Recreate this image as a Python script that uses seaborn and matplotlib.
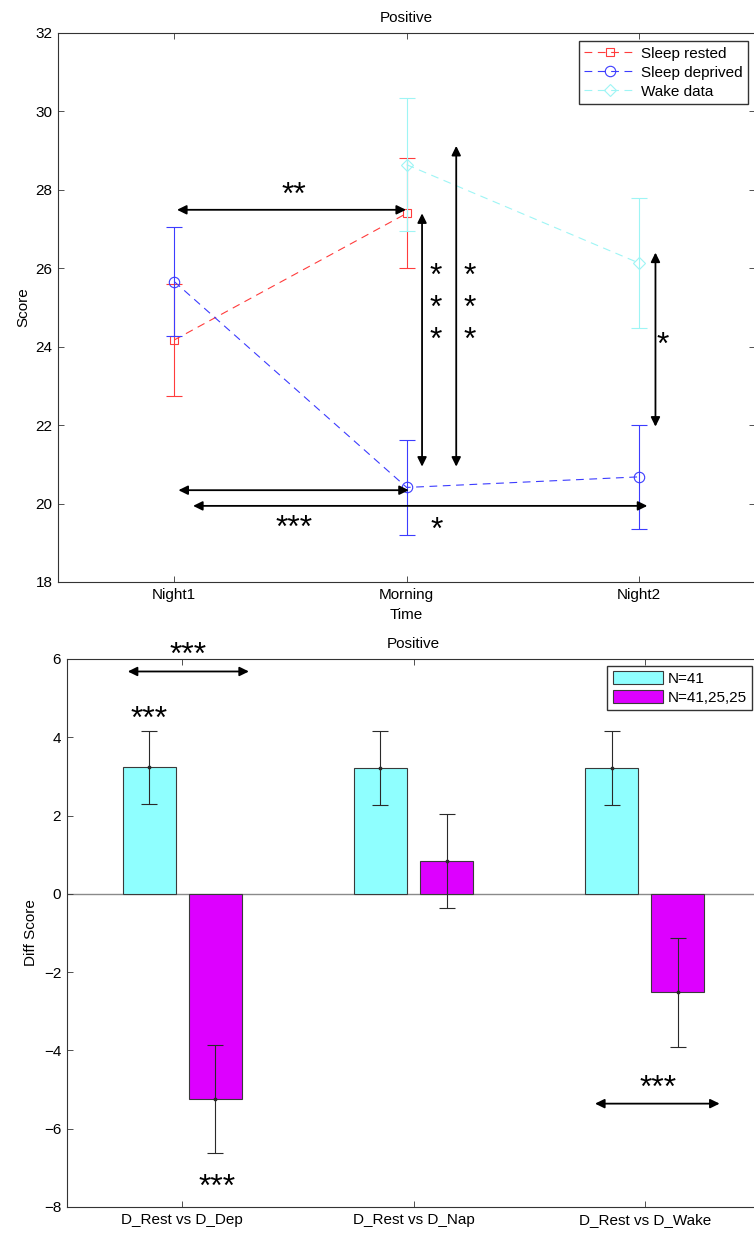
import numpy as np
import pandas as pd
import matplotlib
matplotlib.use("Agg")
import matplotlib.pyplot as plt
import matplotlib.transforms as mtransforms
import seaborn as sns

# ---- data: mean scores over time (with error bar half-widths) ----
times = ["Night1", "Morning", "Night2"]
rested_mean = [24.17, 27.40, np.nan]
rested_err = [1.43, 1.40, np.nan]
deprived_mean = [25.66, 20.41, 20.68]
deprived_err = [1.40, 1.21, 1.33]
wake_mean = [np.nan, 28.64, 26.13]
wake_err = [np.nan, 1.70, 1.65]
series_names = ["Sleep rested", "Sleep deprived", "Wake data"]

# ---- data: difference scores per comparison ----
comparisons = ["D_Rest vs D_Dep", "D_Rest vs D_Nap", "D_Rest vs D_Wake"]
rest_diff = [3.23, 3.22, 3.22]
rest_diff_err = [0.94, 0.94, 0.94]
other_diff = [-5.24, 0.84, -2.52]
other_diff_err = [1.38, 1.21, 1.40]
group_labels = ["N=41", "N=41,25,25"]

sns.set_style("ticks")
plt.rcParams["font.family"] = ["Liberation Sans", "DejaVu Sans"]
plt.rcParams.update({
    "font.size": 11,
    "text.color": "black",
    "axes.labelcolor": "black",
    "xtick.color": "#333333",
    "ytick.color": "#333333",
    "xtick.labelcolor": "black",
    "ytick.labelcolor": "black",
    "axes.edgecolor": "#333333",
    "axes.linewidth": 0.8,
    "xtick.direction": "in",
    "ytick.direction": "in",
    "xtick.top": True,
    "ytick.right": True,
    "xtick.major.size": 4,
    "ytick.major.size": 4,
    "xtick.major.width": 0.6,
    "ytick.major.width": 0.6,
    "xtick.major.pad": 4,
    "ytick.major.pad": 4,
    "xtick.labelsize": 11,
    "ytick.labelsize": 11,
    "axes.titlesize": 11,
    "axes.labelsize": 11,
})

fig = plt.figure(figsize=(7.54, 12.34), dpi=100)
ax1 = fig.add_axes([0.0769, 0.5284, 0.925, 0.4449])
ax2 = fig.add_axes([0.0885, 0.0219, 0.9199, 0.4441])

STAR_FONT = dict(fontsize=23, ha="center", va="center", color="black")


def stars(ax, x, y, s, **kw):
    # the asterisk glyph sits high in its text box; nudge it down a little
    tr = mtransforms.offset_copy(ax.transData, fig=fig, y=-6, units="dots")
    ax.text(x, y, s, transform=tr, **STAR_FONT, **kw)


def double_arrow(ax, p0, p1):
    ax.annotate("", xy=p1, xytext=p0, annotation_clip=False,
                arrowprops=dict(arrowstyle="<|-|>,head_length=0.55,head_width=0.27",
                                color="black", lw=1.3, mutation_scale=10,
                                shrinkA=0, shrinkB=0))


# ================= top panel: scores over time =================
x_pos = np.arange(1, len(times) + 1)
styles = [
    (rested_mean, rested_err, "#ff3c3c", "s", 6),
    (deprived_mean, deprived_err, "#3c3cff", "o", 7.5),
    (wake_mean, wake_err, "#9ef5f5", "D", 6),
]
handles = []
for name, (m, e, c, mk, ms) in zip(series_names, styles):
    df = pd.DataFrame({"time": x_pos, "score": m}).dropna()
    sns.lineplot(data=df, x="time", y="score", ax=ax1, color=c, marker=mk,
                 markersize=ms, markerfacecolor="none", markeredgecolor=c,
                 markeredgewidth=0.8, linestyle=(0, (7, 5)), linewidth=0.8,
                 label=name)
    handles.append(ax1.get_lines()[-1])
    ax1.errorbar(x_pos, m, yerr=e, fmt="none", ecolor=c, elinewidth=0.8,
                 capsize=6, capthick=0.8)

ax1.set_xlim(0.5, 3.5)
ax1.set_ylim(18, 32)
ax1.set_xticks(x_pos, times)
ax1.set_yticks(np.arange(18, 33, 2))
ax1.set_xlabel("Time", labelpad=5)
ax1.set_ylabel("Score", labelpad=4)
ax1.set_title("Positive", pad=8)
ax1.legend(handles, series_names, loc="upper right", bbox_to_anchor=(0.989, 0.985),
           frameon=True, fancybox=False, edgecolor="#333333", framealpha=1,
           handlelength=3.4, labelspacing=0.33, borderaxespad=0, fontsize=11,
           borderpad=0.35, handletextpad=0.3)

# significance markers, top panel
double_arrow(ax1, (1.012, 27.49), (1.997, 27.49))
stars(ax1, 1.513, 28.01, "**")
double_arrow(ax1, (2.066, 20.94), (2.066, 27.40))
stars(ax1, 2.125, 25.12, "*\n*\n*", linespacing=1.1)
double_arrow(ax1, (2.213, 20.94), (2.213, 29.12))
stars(ax1, 2.27, 25.12, "*\n*\n*", linespacing=1.1)
double_arrow(ax1, (3.07, 21.96), (3.07, 26.40))
stars(ax1, 3.10, 24.17, "*")
double_arrow(ax1, (1.018, 20.34), (2.009, 20.34))
double_arrow(ax1, (1.081, 19.94), (3.035, 19.94))
stars(ax1, 1.515, 19.50, "***")
stars(ax1, 2.13, 19.45, "*")

# ================= bottom panel: difference scores =================
bar_df = pd.DataFrame({
    "comparison": comparisons * 2,
    "diff": rest_diff + other_diff,
    "group": [group_labels[0]] * len(comparisons) + [group_labels[1]] * len(comparisons),
})
ax2.axhline(0, color="#8a8a8a", lw=1.0, zorder=0.5)
sns.barplot(data=bar_df, x="comparison", y="diff", hue="group",
            hue_order=group_labels, palette=["#8fffff", "#dd00ff"],
            saturation=1, width=0.572, gap=0.2, errorbar=None,
            edgecolor="#3a3a3a", linewidth=0.8, ax=ax2, legend=False)

bar_sets = [c for c in ax2.containers]
for bars, errs in zip(bar_sets, [rest_diff_err, other_diff_err]):
    xc = [b.get_x() + b.get_width() / 2 for b in bars]
    yv = [b.get_height() for b in bars]
    ax2.errorbar(xc, yv, yerr=errs, fmt=".", color="#2a2a2a", markersize=3.5,
                 elinewidth=0.8, capsize=5.5, capthick=0.8, zorder=3)

ax2.set_xlim(-0.5, 2.5)
ax2.set_ylim(-8, 6)
ax2.set_yticks(np.arange(-8, 7, 2))
ax2.set_xlabel("")
ax2.set_ylabel("Diff Score", labelpad=4)
ax2.set_title("Positive", pad=8)
ax2.legend(bar_sets, group_labels, loc="upper right", bbox_to_anchor=(0.988, 0.987),
           frameon=True, fancybox=False, edgecolor="#333333", framealpha=1,
           handlelength=3.3, handleheight=0.85, labelspacing=0.3, borderaxespad=0,
           fontsize=11, borderpad=0.35, handletextpad=0.3)

# significance markers, bottom panel
double_arrow(ax2, (-0.236, 5.68), (0.288, 5.68))
stars(ax2, 0.026, 6.23, "***", clip_on=False)
stars(ax2, -0.143, 4.60, "***")
stars(ax2, 0.151, -7.35, "***")
double_arrow(ax2, (1.785, -5.36), (2.324, -5.36))
stars(ax2, 2.057, -4.84, "***")

fig.savefig("out.png", dpi=100)
